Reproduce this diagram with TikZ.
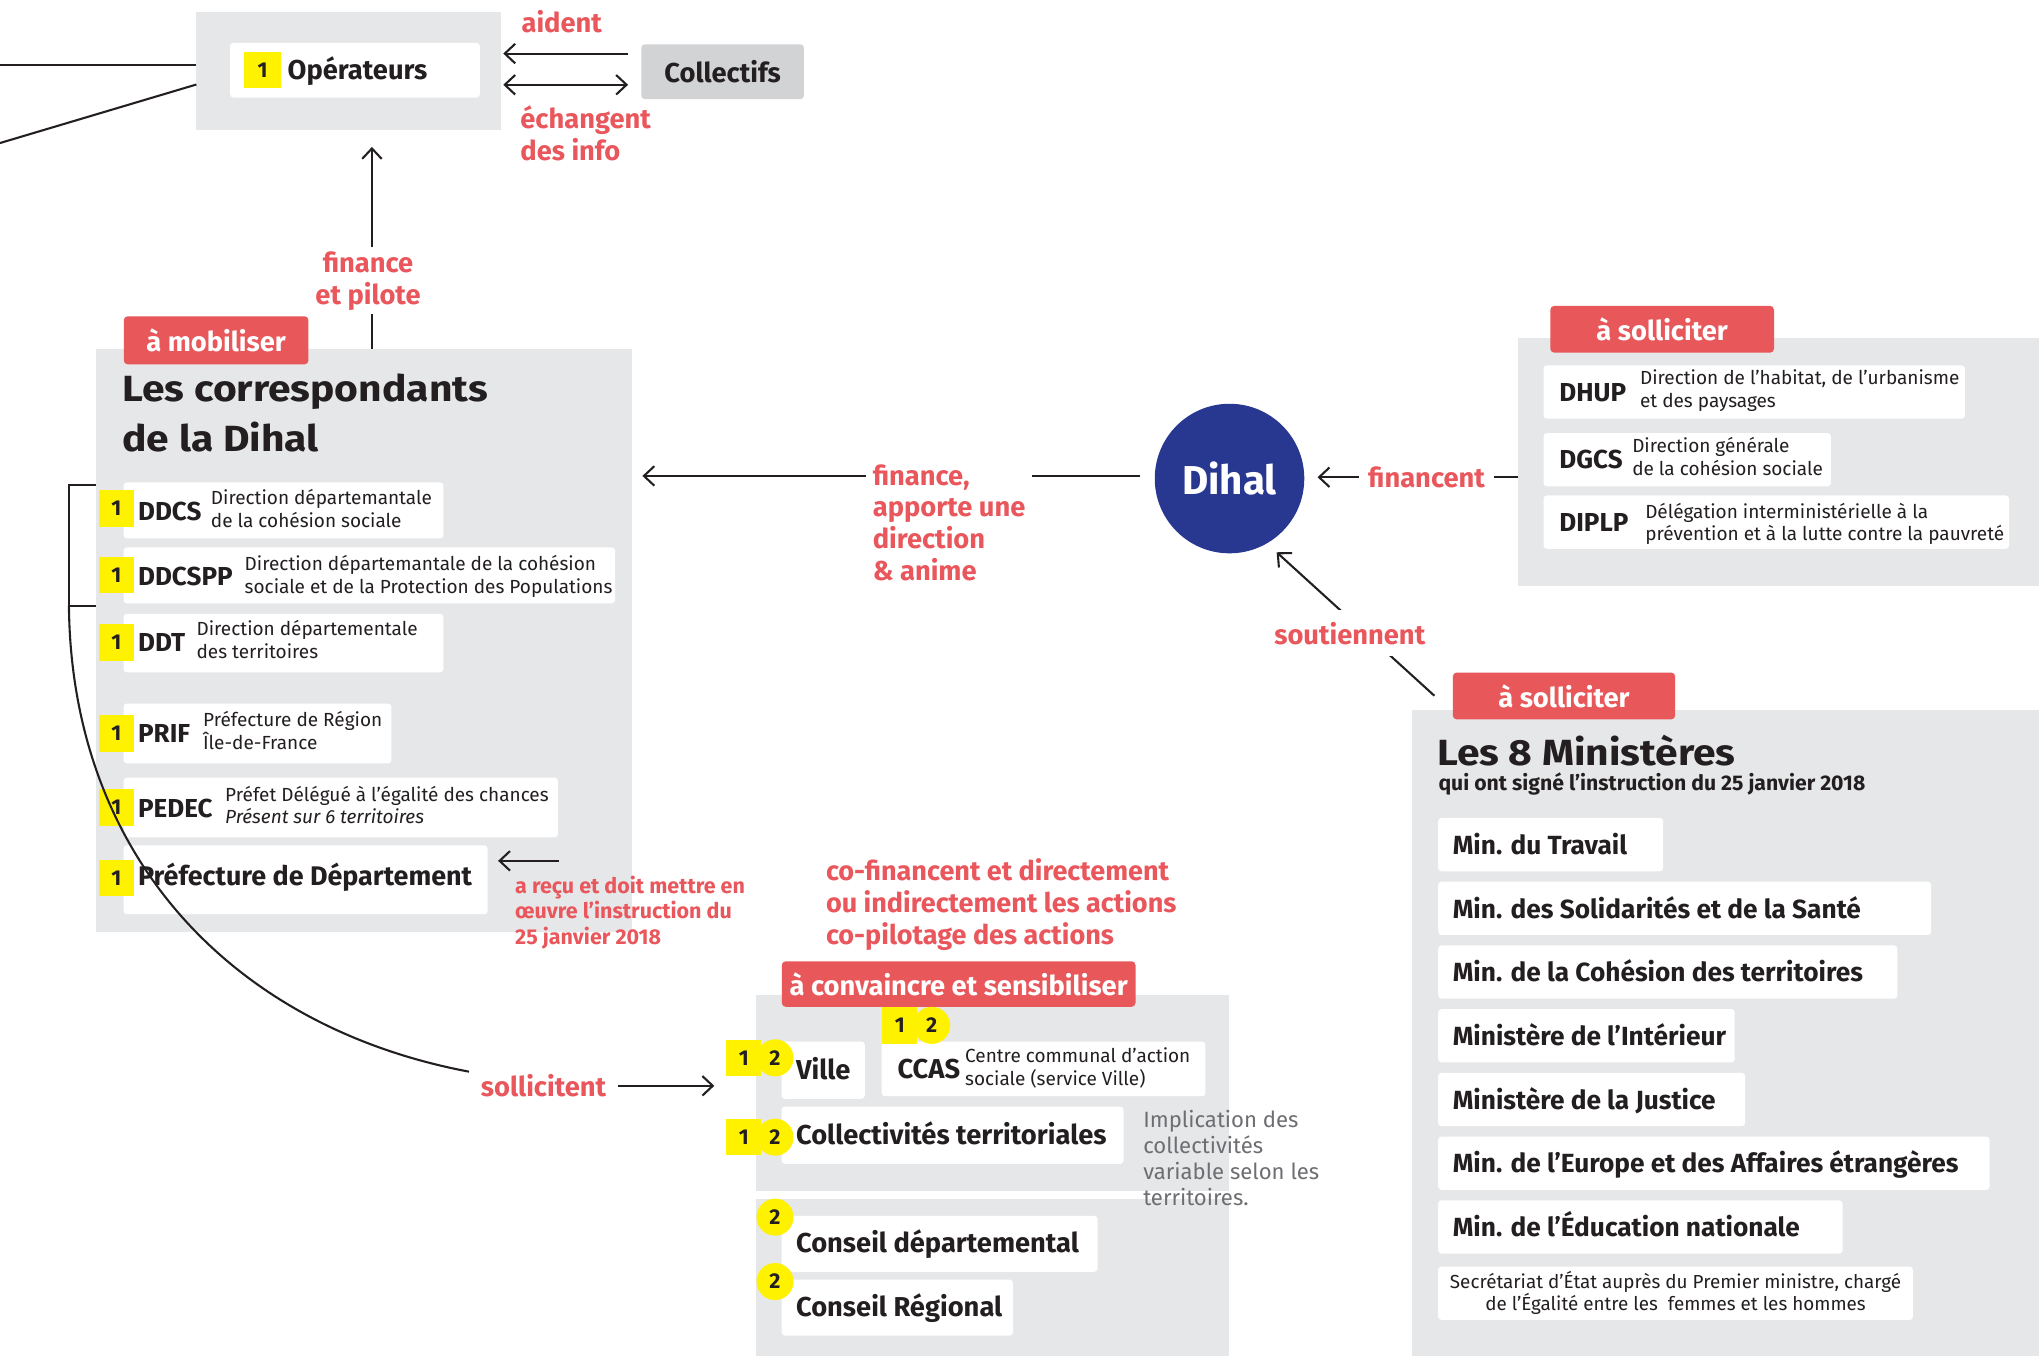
\documentclass[tikz,border=0pt]{standalone}
\usepackage{fontspec}
\setmainfont{Fira Sans}
\newfontfamily\titlefont[FakeStretch=1.12]{Fira Sans}
\usetikzlibrary{arrows.meta}
\definecolor{panel}{HTML}{E6E7E8}
\definecolor{coll}{HTML}{D1D3D4}
\definecolor{tabred}{HTML}{E8575A}
\definecolor{txtred}{HTML}{E9565B}
\definecolor{ink}{HTML}{231F20}
\definecolor{hl}{HTML}{FFF200}
\definecolor{navy}{HTML}{283891}
\definecolor{notegray}{HTML}{6D6E71}
\newcommand\fz[2]{\fontsize{#1}{#2}\selectfont}
\begin{document}
\begin{tikzpicture}[x=1pt,y=-1pt,
  >={Straight Barb[length=8pt,width=15pt]},
  panelbox/.style={fill=panel, draw=none, anchor=north west, inner sep=0, outer sep=0},
  whitebox/.style={fill=white, rounded corners=2.5pt, anchor=north west, inner sep=0, outer sep=0},
  tabbox/.style={fill=tabred, rounded corners=3pt, anchor=north west, inner sep=0, text=white, font=\bfseries\fz{21}{24}},
  redlbl/.style={text=txtred, font=\bfseries\fz{21}{24.5}, inner sep=0, align=left},
  abbr/.style={text=ink, font=\bfseries\fz{20}{24}, inner sep=0, anchor=base west},
  bigtxt/.style={text=ink, font=\bfseries\fz{21}{24}, inner sep=0, anchor=base west},
  desc/.style={text=ink, font=\fz{14.6}{17.5}, inner sep=0, anchor=base west, align=left},
  mintxt/.style={text=ink, font=\bfseries\fz{20.2}{24}, inner sep=0, anchor=base west},
  sq/.style={fill=hl, minimum width=27pt, minimum height=28pt, inner sep=0, font=\bfseries\fz{16.5}{18}, text=ink},
  circ/.style={fill=hl, circle, minimum size=28.5pt, inner sep=0, font=\bfseries\fz{16.5}{18}, text=ink},
  conn/.style={draw=ink, line width=1.6pt},
  ]
\useasboundingbox[fill=white] (0,0) rectangle (1568,1043);

% ---------- panels ----------
\node[panelbox, minimum width=234pt, minimum height=91pt] (opbox) at (151,9) {};
\node[panelbox, minimum width=412pt, minimum height=449pt] (corr) at (74,268) {};
\node[panelbox, minimum width=401pt, minimum height=191pt] (rpanel) at (1167,260) {};
\node[panelbox, minimum width=482pt, minimum height=497pt] (mpanel) at (1086,546) {};
\node[panelbox, minimum width=364pt, minimum height=151pt] (cpanel) at (581,765) {};
\node[panelbox, minimum width=364pt, minimum height=121pt] (cpanelb) at (581,922) {};

% ---------- tabs ----------
\node[tabbox, minimum width=142pt, minimum height=37pt] (tabmob) at (95,243) {à mobiliser};
\node[tabbox, minimum width=172pt, minimum height=36pt] (tabsolA) at (1192,235) {à solliciter};
\node[tabbox, minimum width=171pt, minimum height=36pt] (tabsolB) at (1117,517) {à solliciter};
\node[tabbox, minimum width=272pt, minimum height=35pt] (tabconv) at (601,739) {à convaincre et sensibiliser};

% ---------- Operateurs / Collectifs ----------
\node[whitebox, minimum width=192pt, minimum height=42pt] (opw) at (177,33) {};
\node[sq, minimum width=28pt] (opone) at (202,54) {1};
\node[bigtxt] (optxt) at (221,61) {Opérateurs};
\node[fill=coll, rounded corners=2.5pt, anchor=north west, minimum width=125pt, minimum height=42pt, inner sep=0, font=\bfseries\fz{21}{24}, text=ink] (coll) at (493,34) {Collectifs};
\node[redlbl, anchor=base] (aid) at (432,25) {aident};
\node[redlbl, anchor=base west] (ech) at (400,123.5) {échangent\\des info};

\coordinate (lftA) at (0,50);
\coordinate (lftB) at (0,110);
\draw[conn] (lftA) -- (lftA -| opbox.west);
\draw[conn] (lftB) -- ([yshift=-10.5pt]opbox.west);
\draw[conn, ->, shorten <=10pt, shorten >=2pt] ([yshift=14pt]coll.west) -- ([yshift=14pt]coll.west -| opbox.east);
\draw[conn, <->, shorten <=2pt, shorten >=10pt] ([yshift=-10pt]coll.west -| opbox.east) -- ([yshift=-10pt]coll.west);

% ---------- finance et pilote ----------
\node[redlbl, align=center, inner sep=3pt] (fp) at (283,216) {finance\\et pilote};
\coordinate (vx) at (286,0);
\draw[conn] (corr.north -| vx) -- (fp.south -| vx);
\draw[conn, ->, shorten >=13pt] (fp.north -| vx) -- (opbox.south -| vx);

% ---------- correspondants ----------
\node[anchor=base west, inner sep=0, align=left, text=ink, font=\titlefont\bfseries\fz{28}{38}] (ctitle) at (94,347) {Les correspondants\\de la Dihal};

\node[whitebox, minimum width=246pt, minimum height=43pt] (ddcsw) at (95,371) {};
\node[whitebox, minimum width=378pt, minimum height=43pt] (ddcsppw) at (95,421) {};
\node[whitebox, minimum width=246pt, minimum height=45pt] (ddtw) at (95,472) {};
\node[whitebox, minimum width=206pt, minimum height=46pt] (prifw) at (95,541) {};
\node[whitebox, minimum width=334pt, minimum height=46pt] (pedecw) at (95,598) {};
\node[whitebox, minimum width=280pt, minimum height=53pt] (prefw) at (95,650) {};

\node[sq] (ddcsone) at (89.5,391) {1};
\node[sq] (ddcsppone) at (89.5,442) {1};
\node[sq] (ddtone) at (89.5,494) {1};
\node[sq] (prifone) at (89.5,564) {1};
\node[sq] (pedecone) at (89.5,621) {1};
\node[sq] (prefone) at (89.5,675) {1};

\node[abbr] (ddcsa) at (106,400) {DDCS};
\node[desc] (ddcsd) at (162,405.5) {Direction départemantale\\de la cohésion sociale};
\node[abbr] (ddcsppa) at (106,450) {DDCSPP};
\node[desc] (ddcsppd) at (188,456.5) {Direction départemantale de la cohésion\\sociale et de la Protection des Populations};
\node[abbr] (ddta) at (106,501) {DDT};
\node[desc] (ddtd) at (151,506.5) {Direction départementale\\des territoires};
\node[abbr] (prifa) at (106,571) {PRIF};
\node[desc] (prifd) at (156,576.5) {Préfecture de Région\\Île-de-France};
\node[abbr] (pedeca) at (106,629) {PEDEC};
\node[desc] (pedecd) at (173,633.5) {Préfet Délégué à l’égalité des chances\\\textit{Présent sur 6 territoires}};
\node[bigtxt, font=\bfseries\fz{20.7}{24}] (preft) at (106,681) {Préfecture de Département};

% bracket
\coordinate (brt) at (74,373);
\coordinate (brk) at (53,466);
\coordinate (brb) at (74,466);
\draw[conn] (brt) -| (brk) -- (brb);

\node[redlbl, anchor=base west, font=\bfseries\fz{16.5}{19.5}] (arecu) at (396,726) {a reçu et doit mettre en\\œuvre l’instruction du\\25 janvier 2018};
\coordinate (arecuA) at (430,662);
\draw[conn, ->, shorten >=8pt] (arecuA) -- (arecuA -| prefw.east);

% ---------- Dihal ----------
\node[circle, fill=navy, minimum size=115pt, inner sep=0, text=white, font=\bfseries\fz{31}{36}] (dihal) at (945.5,368) {Dihal};

\node[redlbl, anchor=base west, inner xsep=5pt] (fin) at (666,446.5) {finance,\\apporte une\\direction\\\& anime};
\coordinate (finy) at (0,366);
\draw[conn, shorten <=11pt] (dihal.west |- finy) -- (fin.east |- finy);
\draw[conn, ->, shorten >=8pt] (fin.west |- finy) -- (corr.east |- finy);

\node[redlbl, inner xsep=7pt] (finc) at (1097,367) {financent};
\draw[conn] (finc.east) -- (finc.east -| rpanel.west);
\draw[conn, ->, shorten >=10pt] (finc.west) -- (finc.west -| dihal.east);

\coordinate (sst) at (1103,535);
\draw[conn, ->, shorten >=10pt] (sst) -- (dihal.300);
\node[redlbl, fill=white, inner xsep=2pt, inner ysep=9pt] (sout) at (1038,487) {soutiennent};

% ---------- right panel ----------
\node[whitebox, minimum width=324pt, minimum height=41pt] (dhupw) at (1187,281) {};
\node[whitebox, minimum width=221pt, minimum height=41pt] (dgcsw) at (1187,333) {};
\node[whitebox, minimum width=358pt, minimum height=41pt] (diplpw) at (1187,381) {};
\node[abbr] (dhupa) at (1199,309) {DHUP};
\node[desc] (dhupd) at (1261,313) {Direction de l’habitat, de l’urbanisme\\et des paysages};
\node[abbr] (dgcsa) at (1199,360) {DGCS};
\node[desc] (dgcsd) at (1255,365.5) {Direction générale\\de la cohésion sociale};
\node[abbr] (diplpa) at (1199,409) {DIPLP};
\node[desc] (diplpd) at (1265,416) {Délégation interministérielle à la\\prévention et à la lutte contre la pauvreté};

% ---------- ministeres ----------
\node[anchor=base west, inner sep=0, text=ink, font=\titlefont\bfseries\fz{28}{34}] (mtitle) at (1105,589) {Les 8 Ministères};
\node[anchor=base west, inner sep=0, text=ink, font=\bfseries\fz{16.3}{19}] (msub) at (1106,608) {qui ont signé l’instruction du 25 janvier 2018};
\foreach \t/\w/\s [count=\i] in {629/173/{Min. du Travail}, 678/379/{Min. des Solidarités et de la Santé}, 727/353/{Min. de la Cohésion des territoires}, 776/228/{Ministère de l’Intérieur}, 825/236/{Ministère de la Justice}, 874/424/{Min. de l’Europe et des Affaires étrangères}, 923/311/{Min. de l’Éducation nationale}}{
  \node[whitebox, minimum width=\w pt, minimum height=41pt] (minbox\i) at (1106,\t) {};
  \node[mintxt] (mintxt\i) at (1117,\t+28) {\s};
}
\node[whitebox, minimum width=365pt, minimum height=41pt, align=center, font=\fz{14.5}{17}, text=ink] (secr) at (1106,974) {Secrétariat d’État auprès du Premier ministre, chargé\\de l’Égalité entre les\ \ femmes et les hommes};

% ---------- collectivites ----------
\node[redlbl, anchor=base west, font=\bfseries\fz{20.8}{24.5}] (cofin) at (635,726) {co-financent et directement\\ou indirectement les actions\\co-pilotage des actions};

\node[whitebox, minimum width=64pt, minimum height=44pt] (villew) at (601,801) {};
\node[whitebox, minimum width=249pt, minimum height=42pt] (ccasw) at (678,801) {};
\node[whitebox, minimum width=263pt, minimum height=44pt] (collw) at (601,851) {};
\node[whitebox, minimum width=243pt, minimum height=43pt] (cdepw) at (601,935) {};
\node[whitebox, minimum width=178pt, minimum height=43pt] (cregw) at (601,984) {};

\node[sq] (villeone) at (572,813.5) {1};
\node[circ] (villetwo) at (596,813.5) {2};
\node[sq] (ccasone) at (692,788.5) {1};
\node[circ] (ccastwo) at (716.5,788.5) {2};
\node[sq] (collone) at (572,874.5) {1};
\node[circ] (colltwo) at (596,874.5) {2};
\node[circ] (cdeptwo) at (596,936) {2};
\node[circ] (cregtwo) at (596,985.5) {2};

\node[bigtxt] (villet) at (612,830) {Ville};
\node[bigtxt] (ccasa) at (690,829.5) {CCAS};
\node[desc] (ccasd) at (742,834.5) {Centre communal d’action\\sociale (service Ville)};
\node[bigtxt] (collt) at (612,880) {Collectivités territoriales};
\node[bigtxt] (cdept) at (612,963) {Conseil départemental};
\node[bigtxt] (cregt) at (612,1012.5) {Conseil Régional};

\node[anchor=base west, inner sep=0, align=left, text=notegray, font=\fz{17}{20}] (note) at (879,927) {Implication des\\collectivités\\variable selon les\\territoires.};

% sollicitent
\node[redlbl, inner xsep=9pt, inner ysep=2pt] (sol) at (418,835) {sollicitent};
\draw[conn] (brk) .. controls (55,660) and (180,790) .. (sol.north west);
\draw[conn, ->, shorten >=9pt] (sol.east) -- (sol.east -| villeone.west);

\end{tikzpicture}
\end{document}
